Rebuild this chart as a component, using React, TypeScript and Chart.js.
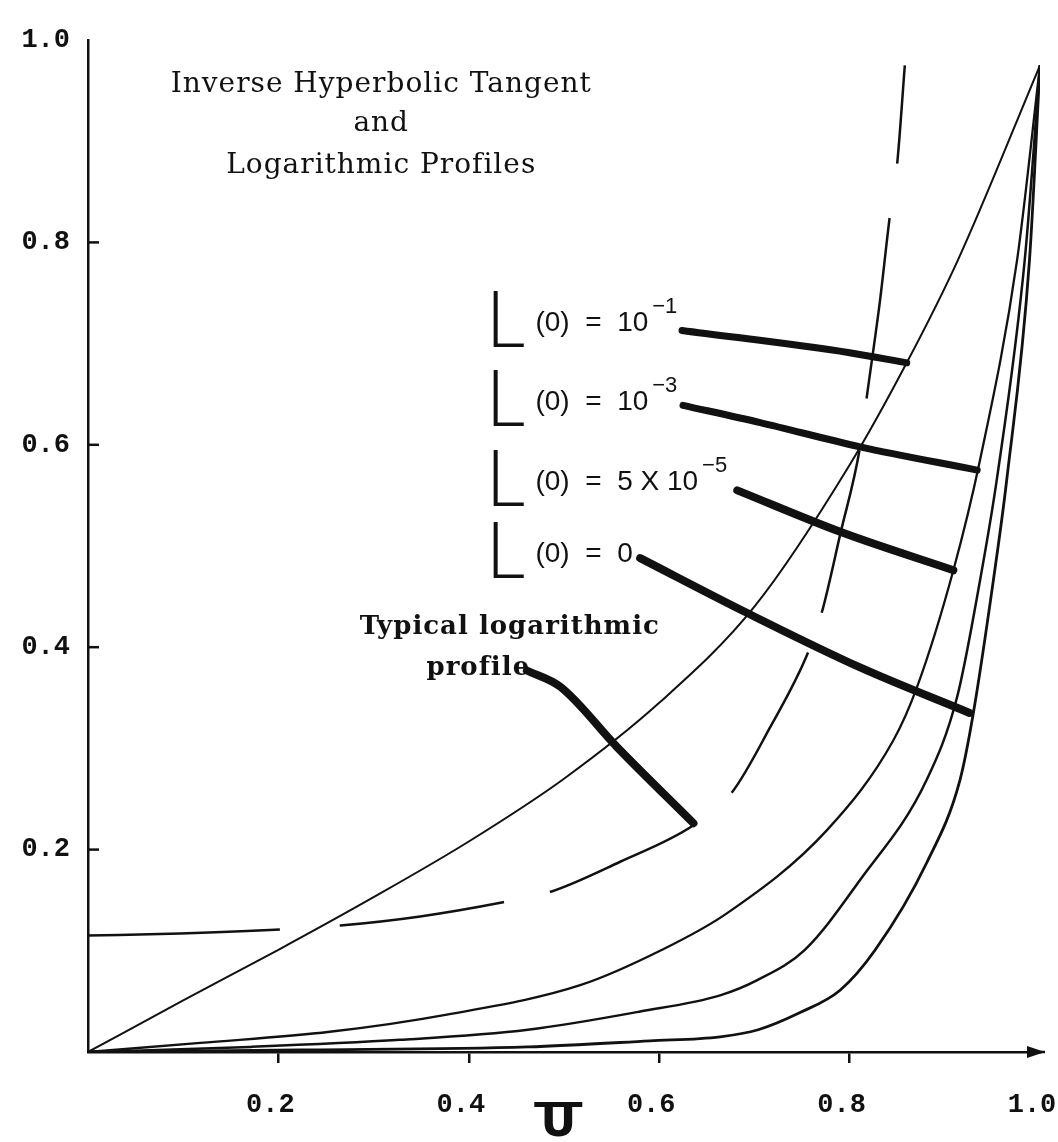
import React, { useEffect, useRef } from "react";
import { Chart, registerables } from "chart.js";

Chart.register(...registerables);

const INK = "#111111";

// axis ticks
const xTickValues = [0.2, 0.4, 0.6, 0.8, 1.0];
const yTickValues = [0.2, 0.4, 0.6, 0.8, 1.0];
const yTickMarks = [0.2, 0.4, 0.6, 0.8];

// Inverse hyperbolic tangent profiles, [U, y]
const profileL1e1: [number, number][] = [
  [0, 0], [0.1, 0.051], [0.2, 0.101], [0.3, 0.153], [0.4, 0.208], [0.5, 0.27],
  [0.6, 0.345], [0.7, 0.44], [0.8, 0.58], [0.86, 0.681], [0.914, 0.783], [1.0, 0.975],
];
const profileL1e3: [number, number][] = [
  [0, 0], [0.118, 0.009], [0.254, 0.02], [0.377, 0.037], [0.517, 0.066], [0.603, 0.101],
  [0.671, 0.137], [0.776, 0.219], [0.846, 0.308], [0.871, 0.361], [0.909, 0.476],
  [0.937, 0.585], [0.976, 0.783], [1.0, 0.975],
];
const profileL5e5: [number, number][] = [
  [0, 0], [0.17, 0.005], [0.328, 0.012], [0.462, 0.022], [0.58, 0.04], [0.664, 0.056],
  [0.703, 0.071], [0.753, 0.101], [0.811, 0.17], [0.881, 0.269], [0.913, 0.351],
  [0.937, 0.466], [0.955, 0.568], [0.984, 0.783], [1.0, 0.975],
];
const profileL0: [number, number][] = [
  [0, 0], [0.223, 0.002], [0.462, 0.005], [0.59, 0.011], [0.664, 0.015], [0.704, 0.022],
  [0.748, 0.039], [0.79, 0.061], [0.827, 0.101], [0.881, 0.187], [0.916, 0.269],
  [0.93, 0.335], [0.951, 0.466], [0.965, 0.565], [0.989, 0.783], [1.0, 0.975],
];
// Typical logarithmic profile (long-dashed)
const profileLog: [number, number][] = [
  [0, 0.115], [0.097, 0.117], [0.202, 0.121], [0.265, 0.125], [0.349, 0.134], [0.436, 0.148],
  [0.485, 0.158], [0.559, 0.188], [0.636, 0.224], [0.676, 0.256], [0.716, 0.32],
  [0.756, 0.394], [0.771, 0.435], [0.79, 0.511], [0.811, 0.598], [0.818, 0.647],
  [0.832, 0.743], [0.842, 0.824], [0.85, 0.878], [0.858, 0.975],
];
const logDashPattern = [192, 60, 166, 47, 161, 48, 160, 42, 167, 52, 182, 55, 300, 10];

// leader strokes from labels to curves
const leader1e1: [number, number][] = [[0.624, 0.713], [0.8, 0.691], [0.86, 0.681]];
const leader1e3: [number, number][] = [[0.625, 0.639], [0.706, 0.622], [0.811, 0.598], [0.934, 0.575]];
const leader5e5: [number, number][] = [[0.682, 0.555], [0.793, 0.513], [0.909, 0.476]];
const leader0: [number, number][] = [[0.58, 0.488], [0.692, 0.434], [0.811, 0.38], [0.926, 0.335]];
const leaderLog: [number, number][] = [[0.461, 0.377], [0.496, 0.361], [0.556, 0.301], [0.636, 0.226]];

// texts
const titleLines = ["Inverse Hyperbolic Tangent", "and", "Logarithmic Profiles"];
const titleAnchor = { u: 0.308, v: [0.956, 0.917, 0.876] };
const curveLabels = [
  { text: "(0)  =  10", sup: "\u22121", u: 0.47, v: 0.72 },
  { text: "(0)  =  10", sup: "\u22123", u: 0.47, v: 0.642 },
  { text: "(0)  =  5 X 10", sup: "\u22125", u: 0.47, v: 0.563 },
  { text: "(0)  =  0", sup: "", u: 0.47, v: 0.492 },
];
const logLabelLines = ["Typical logarithmic", "profile"];
const logLabelAnchor = [
  { u: 0.443, v: 0.42 },
  { u: 0.41, v: 0.379 },
];
const xSymbol = { text: "U", u: 0.494 };

const toXY = (pts: [number, number][]) => pts.map(([x, y]) => ({ x, y }));

const annotationPlugin = {
  id: "annotations",
  afterDraw(chart: any) {
    const { ctx, chartArea } = chart;
    const x = chart.scales.x;
    const y = chart.scales.y;
    ctx.save();
    ctx.fillStyle = INK;
    ctx.strokeStyle = INK;

    // inner tick marks on y axis
    ctx.lineWidth = 2.5;
    yTickMarks.forEach((v) => {
      const py = y.getPixelForValue(v);
      ctx.beginPath();
      ctx.moveTo(chartArea.left, py);
      ctx.lineTo(chartArea.left + 11, py);
      ctx.stroke();
    });

    // arrow head on x axis
    const tipX = x.getPixelForValue(1) + 5;
    const ay = chartArea.bottom;
    ctx.beginPath();
    ctx.moveTo(chartArea.right, ay);
    ctx.lineTo(tipX, ay);
    ctx.stroke();
    ctx.beginPath();
    ctx.moveTo(tipX, ay);
    ctx.lineTo(tipX - 18, ay - 6);
    ctx.lineTo(tipX - 18, ay + 6);
    ctx.closePath();
    ctx.fill();

    // title
    ctx.font = "28px 'DejaVu Serif'";
    (ctx as any).letterSpacing = "1px";
    ctx.textAlign = "center";
    ctx.textBaseline = "middle";
    titleLines.forEach((t, i) => {
      ctx.fillText(t, x.getPixelForValue(titleAnchor.u), y.getPixelForValue(titleAnchor.v[i]));
    });
    (ctx as any).letterSpacing = "0px";

    // curve labels
    curveLabels.forEach((lab) => {
      const tx = x.getPixelForValue(lab.u);
      const ty = y.getPixelForValue(lab.v);
      // script L
      ctx.save();
      ctx.font = "300 78px Lato";
      ctx.textAlign = "left";
      ctx.textBaseline = "alphabetic";
      ctx.translate(tx - 50, ty + 24);
      ctx.scale(1.0, 1);
      ctx.fillText("L", 0, 0);
      ctx.restore();
      ctx.font = "28px 'Liberation Sans'";
      ctx.textAlign = "left";
      ctx.textBaseline = "middle";
      ctx.fillText(lab.text, tx, ty);
      if (lab.sup) {
        const w = ctx.measureText(lab.text).width;
        ctx.font = "22px 'Liberation Sans'";
        ctx.fillText(lab.sup, tx + w + 4, ty - 16);
      }
    });

    // typical logarithmic profile label
    ctx.font = "bold 26px 'DejaVu Serif'";
    (ctx as any).letterSpacing = "1px";
    ctx.textAlign = "center";
    ctx.textBaseline = "middle";
    logLabelLines.forEach((t, i) => {
      ctx.fillText(t, x.getPixelForValue(logLabelAnchor[i].u), y.getPixelForValue(logLabelAnchor[i].v));
    });
    (ctx as any).letterSpacing = "0px";

    // x-axis symbol (U with bar)
    const sx = x.getPixelForValue(xSymbol.u);
    const barY = chartArea.bottom + 50;
    ctx.fillRect(sx - 24, barY, 48, 5);
    ctx.font = "bold 44px 'DejaVu Sans'";
    ctx.textAlign = "center";
    ctx.textBaseline = "top";
    ctx.fillText(xSymbol.text, sx, barY + 1);

    ctx.restore();
  },
};

export default function App() {
  const canvasRef = useRef<HTMLCanvasElement | null>(null);

  useEffect(() => {
    if (!canvasRef.current) return;
    const tickFont = { family: "'Liberation Mono'", size: 27, weight: "bold" as const };
    const curve = (pts: [number, number][], width: number, extra: any = {}) => ({
      data: toXY(pts),
      showLine: true,
      borderColor: INK,
      backgroundColor: INK,
      borderWidth: width,
      pointRadius: 0,
      fill: false,
      cubicInterpolationMode: "monotone" as const,
      ...extra,
    });
    const chart = new Chart(canvasRef.current, {
      type: "scatter",
      data: {
        datasets: [
          curve(leader1e1, 7, { borderCapStyle: "round" }),
          curve(leader1e3, 7, { borderCapStyle: "round" }),
          curve(leader5e5, 8, { borderCapStyle: "round" }),
          curve(leader0, 8, { borderCapStyle: "round" }),
          curve(leaderLog, 8, { borderCapStyle: "round" }),
          curve(profileL1e1, 2),
          curve(profileL1e3, 2.3),
          curve(profileL5e5, 2.5),
          curve(profileL0, 2.8),
          curve(profileLog, 2.5, { borderDash: logDashPattern }),
        ],
      },
      plugins: [annotationPlugin],
      options: {
        animation: false,
        responsive: false,
        maintainAspectRatio: false,
        layout: { padding: { top: 40, right: 18, left: 0, bottom: 0 } },
        plugins: {
          legend: { display: false },
          tooltip: { enabled: false },
          title: { display: false },
        },
        scales: {
          x: {
            type: "linear",
            min: 0,
            max: 1,
            grid: {
              display: true,
              drawOnChartArea: false,
              drawTicks: true,
              tickLength: 11,
              lineWidth: 2.5,
              color: (c: any) =>
                c.tick && c.tick.value > 0.01 && c.tick.value < 0.99 ? INK : "rgba(0,0,0,0)",
            },
            border: { display: true, color: INK, width: 2.5 },
            ticks: {
              stepSize: 0.2,
              autoSkip: false,
              maxRotation: 0,
              padding: 26,
              labelOffset: -8,
              color: INK,
              font: tickFont,
              callback: (v: any) =>
                xTickValues.some((t) => Math.abs(t - Number(v)) < 1e-6) ? Number(v).toFixed(1) : "",
            },
            afterFit: (s: any) => {
              s.height = 90;
              s.paddingLeft = 0;
              s.paddingRight = 0;
            },
          },
          y: {
            type: "linear",
            min: 0,
            max: 1,
            grid: { display: true, drawOnChartArea: false, drawTicks: false },
            border: { display: true, color: INK, width: 2.5 },
            ticks: {
              stepSize: 0.2,
              autoSkip: false,
              padding: 18,
              color: INK,
              font: tickFont,
              callback: (v: any) =>
                yTickValues.some((t) => Math.abs(t - Number(v)) < 1e-6) ? Number(v).toFixed(1) : "",
            },
            afterFit: (s: any) => {
              s.width = 88;
              s.paddingTop = 0;
              s.paddingBottom = 0;
            },
          },
        },
      } as any,
    });
    return () => chart.destroy();
  }, []);

  return (
    <div style={{ position: "absolute", left: 0, top: 0, width: 1058, height: 1142, background: "#ffffff" }}>
      <canvas ref={canvasRef} width={1058} height={1142} style={{ display: "block", width: 1058, height: 1142 }} />
    </div>
  );
}
